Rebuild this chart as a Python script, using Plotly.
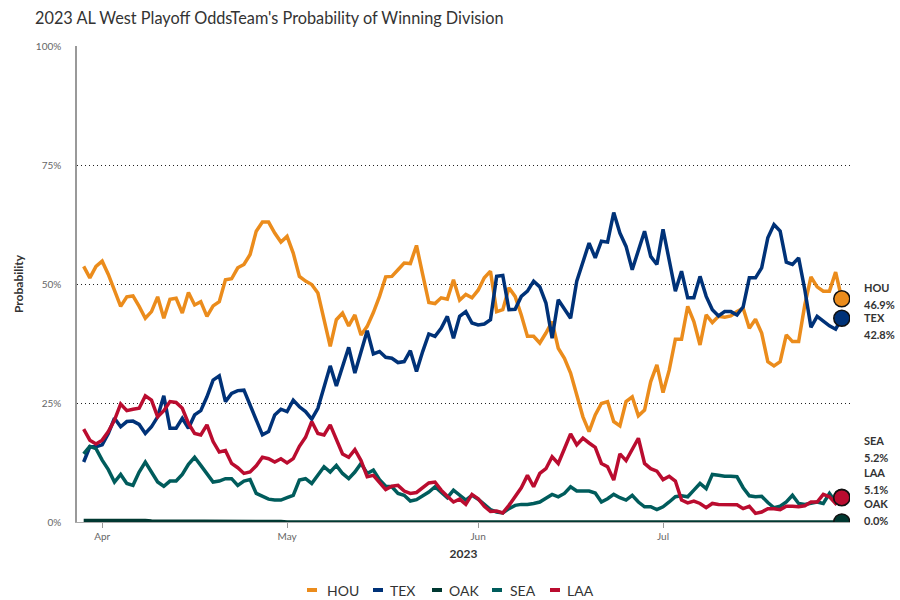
import pandas as pd
import plotly.graph_objects as go

dates = pd.date_range("2023-03-29", "2023-07-30", freq="D")

hou = [53.7, 51.3, 53.7, 54.8, 52.0, 48.5, 45.3, 47.3, 47.5, 45.3,
       42.8, 44.2, 47.3, 42.8, 46.8, 47.0, 43.9, 48.2, 45.6, 46.3,
       43.2, 45.4, 46.3, 50.9, 51.1, 53.4, 54.1, 56.2, 61.1, 63.0,
       63.0, 60.7, 58.8, 60.0, 56.5, 51.6, 50.6, 49.9, 48.1, 42.5,
       36.9, 42.5, 43.9, 41.2, 43.5, 39.3, 41.1, 44.0, 47.4, 51.5,
       51.6, 53.0, 54.4, 54.3, 58.1, 52.0, 46.1, 45.9, 47.1, 46.8,
       50.9, 46.6, 47.8, 47.1, 48.7, 51.3, 52.7, 44.2, 44.6, 49.2,
       47.4, 43.5, 39.0, 39.0, 37.6, 39.7, 42.1, 36.5, 34.4, 31.3,
       27.0, 22.1, 19.0, 22.5, 24.9, 25.3, 21.1, 20.2, 25.3, 26.3,
       22.3, 23.5, 29.5, 33.0, 27.2, 31.9, 38.4, 38.4, 45.3, 42.1,
       37.2, 43.5, 41.9, 43.2, 43.0, 43.3, 44.2, 44.9, 40.7, 42.6,
       39.7, 33.7, 32.8, 33.7, 39.3, 37.9, 37.9, 45.6, 51.5, 49.4,
       48.5, 48.5, 52.5, 46.9]

tex = [12.6, 15.8, 15.8, 16.2, 18.6, 21.8, 20.0, 21.1, 21.2, 20.5,
       18.6, 20.0, 22.1, 26.5, 19.7, 19.7, 21.8, 19.7, 22.5, 23.4,
       26.3, 29.8, 30.7, 25.3, 27.0, 27.6, 27.7, 24.6, 21.4, 18.3,
       19.0, 22.5, 23.7, 23.2, 25.6, 24.2, 23.2, 21.6, 23.9, 28.1,
       32.8, 28.6, 32.7, 36.7, 31.3, 35.5, 40.2, 35.3, 35.8, 34.6,
       34.4, 33.5, 33.7, 36.0, 31.6, 35.8, 39.5, 39.0, 40.7, 43.2,
       38.6, 43.2, 44.2, 41.8, 41.4, 41.6, 42.5, 51.6, 51.8, 44.6,
       44.7, 47.4, 48.5, 50.6, 49.4, 46.0, 38.6, 46.7, 44.7, 42.8,
       50.6, 54.4, 58.6, 55.5, 59.0, 58.8, 65.0, 60.7, 57.9, 53.0,
       56.9, 61.1, 55.8, 54.1, 61.5, 54.8, 48.5, 52.7, 47.1, 47.1,
       51.6, 47.4, 44.6, 43.3, 44.2, 44.2, 43.5, 45.2, 51.3, 51.3,
       53.4, 59.7, 62.5, 61.1, 54.6, 54.1, 55.5, 48.8, 40.9, 43.2,
       42.1, 41.2, 40.5, 42.8]

oak = [0.3, 0.3, 0.3, 0.3, 0.4, 0.3, 0.3, 0.3, 0.3, 0.3,
       0.3, 0.2, 0.2, 0.2, 0.2, 0.2, 0.2, 0.2, 0.1, 0.1,
       0.1, 0.1, 0.1, 0.1, 0.1, 0.1, 0.1, 0.1, 0.1, 0.1,
       0.1, 0.1, 0.1, 0.0, 0.0, 0.0, 0.0, 0.0, 0.0, 0.0,
       0.0, 0.0, 0.0, 0.0, 0.0, 0.0, 0.0, 0.0, 0.0, 0.0,
       0.0, 0.0, 0.0, 0.0, 0.0, 0.0, 0.0, 0.0, 0.0, 0.0,
       0.0, 0.0, 0.0, 0.0, 0.0, 0.0, 0.0, 0.0, 0.0, 0.0,
       0.0, 0.0, 0.0, 0.0, 0.0, 0.0, 0.0, 0.0, 0.0, 0.0,
       0.0, 0.0, 0.0, 0.0, 0.0, 0.0, 0.0, 0.0, 0.0, 0.0,
       0.0, 0.0, 0.0, 0.0, 0.0, 0.0, 0.0, 0.0, 0.0, 0.0,
       0.0, 0.0, 0.0, 0.0, 0.0, 0.0, 0.0, 0.0, 0.0, 0.0,
       0.0, 0.0, 0.0, 0.0, 0.0, 0.0, 0.0, 0.0, 0.0, 0.0,
       0.0, 0.0, 0.0, 0.0]

sea = [14.3, 15.9, 15.4, 13.0, 11.0, 8.4, 10.0, 8.1, 7.7, 10.5,
       12.6, 10.5, 8.4, 7.5, 8.6, 8.6, 10.0, 12.1, 13.6, 11.9,
       10.2, 8.4, 8.6, 9.1, 9.1, 7.7, 8.6, 8.9, 6.0, 5.3,
       4.8, 4.6, 4.6, 5.1, 5.6, 8.8, 9.1, 8.1, 9.8, 11.6,
       10.5, 11.9, 10.2, 9.1, 10.5, 12.3, 10.2, 10.9, 8.9, 7.5,
       7.4, 6.0, 5.6, 4.4, 4.7, 5.4, 6.3, 7.4, 6.3, 5.1,
       6.7, 5.6, 4.6, 5.6, 4.8, 3.7, 2.6, 2.1, 1.9, 2.8,
       3.5, 3.7, 3.7, 3.9, 4.2, 5.0, 5.8, 5.3, 6.0, 7.4,
       6.5, 6.5, 6.5, 6.1, 4.2, 4.9, 5.8, 5.1, 4.6, 5.6,
       4.2, 3.2, 3.2, 2.6, 3.2, 4.2, 5.3, 5.5, 5.3, 6.7,
       8.1, 7.0, 10.0, 9.8, 9.6, 9.6, 9.5, 7.2, 5.5, 5.3,
       5.4, 4.1, 3.0, 3.3, 4.2, 5.6, 3.9, 3.7, 4.0, 4.2,
       3.9, 6.0, 4.2, 5.2]

laa = [19.5, 17.2, 16.4, 17.2, 19.0, 21.4, 24.8, 23.4, 23.7, 23.9,
       26.5, 25.6, 22.1, 23.4, 25.3, 25.1, 23.9, 20.7, 18.6, 18.3,
       20.4, 16.9, 14.7, 15.0, 12.3, 11.4, 10.2, 10.5, 11.8, 13.6,
       13.3, 12.6, 13.3, 12.4, 13.3, 15.9, 17.8, 21.1, 18.6, 18.3,
       20.4, 17.1, 14.3, 13.6, 15.2, 12.9, 9.5, 9.8, 8.2, 6.8,
       7.5, 7.7, 6.5, 6.0, 6.2, 7.2, 8.2, 8.4, 6.7, 5.4,
       4.2, 4.8, 3.7, 5.8, 4.9, 3.3, 2.2, 2.3, 1.9, 3.5,
       5.3, 7.2, 9.8, 7.4, 10.2, 11.2, 13.7, 12.3, 15.4, 18.5,
       16.2, 17.6, 16.6, 15.7, 12.3, 11.6, 8.8, 14.3, 12.9, 15.4,
       17.6, 12.3, 11.2, 10.7, 8.9, 9.6, 8.6, 4.6, 4.0, 4.4,
       3.9, 3.0, 3.9, 3.7, 3.7, 3.7, 3.6, 2.8, 3.3, 1.8,
       2.1, 2.8, 2.8, 2.6, 3.3, 3.3, 3.2, 3.4, 4.2, 4.2,
       5.8, 5.3, 3.9, 5.1]

teams = ["HOU", "TEX", "OAK", "SEA", "LAA"]
series = {"HOU": hou, "TEX": tex, "OAK": oak, "SEA": sea, "LAA": laa}
colors = {"HOU": "#EB8C1C", "TEX": "#003278", "OAK": "#003831",
          "SEA": "#005C5C", "LAA": "#BA0C2F"}

y_ticks = [0, 25, 50, 75, 100]
y_tick_text = ["0%", "25%", "50%", "75%", "100%"]

# right-side labels: (text, y position in pixels of the 600px page)
label_rows = [("HOU", 287), ("46.9%", 304), ("TEX", 317), ("42.8%", 334),
              ("SEA", 440), ("5.2%", 457), ("LAA", 472), ("5.1%", 489),
              ("OAK", 503), ("0.0%", 520)]

# legend layout in page pixels: symbol centre x, text start x
legend_pos = {"HOU": (312, 325), "TEX": (378, 388), "OAK": (437, 447),
              "SEA": (497, 508), "LAA": (555, 565)}
LEGEND_Y = 590

FONT = "Lato"
PL, PR, PT, PB = 77, 850, 46, 522


def px_x(px):
    return (px - PL) / (PR - PL)


def px_y(py):
    return (PB - py) / (PB - PT)


fig = go.Figure()

for t in teams:
    fig.add_trace(go.Scatter(x=dates, y=series[t], mode="lines", name=t,
                             line=dict(color=colors[t], width=3.5),
                             showlegend=False, hoverinfo="skip"))

for t in ["OAK", "SEA", "LAA", "TEX", "HOU"]:
    fig.add_trace(go.Scatter(x=[dates[-1]], y=[series[t][-1]], mode="markers",
                             showlegend=False, hoverinfo="skip",
                             marker=dict(size=16, color=colors[t],
                                         line=dict(color="#111111", width=1.5))))

for txt, py in label_rows:
    fig.add_annotation(x=px_x(862), xref="paper", xanchor="left",
                       y=px_y(py), yref="paper", yanchor="middle", showarrow=False,
                       text="<b>" + txt + "</b>",
                       font=dict(family=FONT, size=11, color="#333333"))

for t in teams:
    sx, tx = legend_pos[t]
    fig.add_shape(type="line", xref="paper", yref="paper",
                  x0=px_x(sx - 5), x1=px_x(sx + 5), y0=px_y(LEGEND_Y), y1=px_y(LEGEND_Y),
                  line=dict(color=colors[t], width=4))
    fig.add_annotation(x=px_x(tx), xref="paper", xanchor="left",
                       y=px_y(LEGEND_Y), yref="paper", yanchor="middle",
                       showarrow=False, text=t,
                       font=dict(family=FONT, size=14, color="#333333"))

fig.update_layout(
    width=900, height=600,
    margin=dict(l=PL, r=900 - PR, t=PT, b=600 - PB, autoexpand=False),
    paper_bgcolor="white", plot_bgcolor="white",
    font=dict(family=FONT, color="#333333"),
    title=dict(text="2023 AL West Playoff OddsTeam's Probability of Winning Division",
               x=35 / 900, xanchor="left", xref="container",
               y=1 - 18 / 600, yanchor="middle", yref="container",
               font=dict(family=FONT, size=16.3, color="#333333")),
    showlegend=False,
)

fig.update_xaxes(
    range=["2023-03-27 22:00", "2023-07-31 08:00"],
    dtick="M1", tick0="2023-04-01", tickformat="%b",
    ticks="outside", ticklen=5, tickcolor="#999999",
    showgrid=False, zeroline=False, automargin=False,
    showline=True, linecolor="#aaaaaa", linewidth=1,
    tickfont=dict(family=FONT, size=10, color="#666666"),
    title=dict(text="<b>2023</b>", font=dict(family=FONT, size=12, color="#333333"),
               standoff=8),
)

fig.update_yaxes(
    range=[0, 100], tickmode="array", tickvals=y_ticks, ticktext=y_tick_text,
    showgrid=True, gridcolor="#222222", griddash="1px,3px", gridwidth=1,
    zeroline=False, showline=True, linecolor="#999999", linewidth=1.5,
    ticks="", ticklabelstandoff=12, automargin=False,
    tickfont=dict(family=FONT, size=10, color="#666666"),
    title=dict(text="<b>Probability</b>", font=dict(family=FONT, size=12, color="#333333"),
               standoff=10),
)

fig.write_html("out.html", config={"displayModeBar": False},
               post_script="document.body.style.margin='0';")
